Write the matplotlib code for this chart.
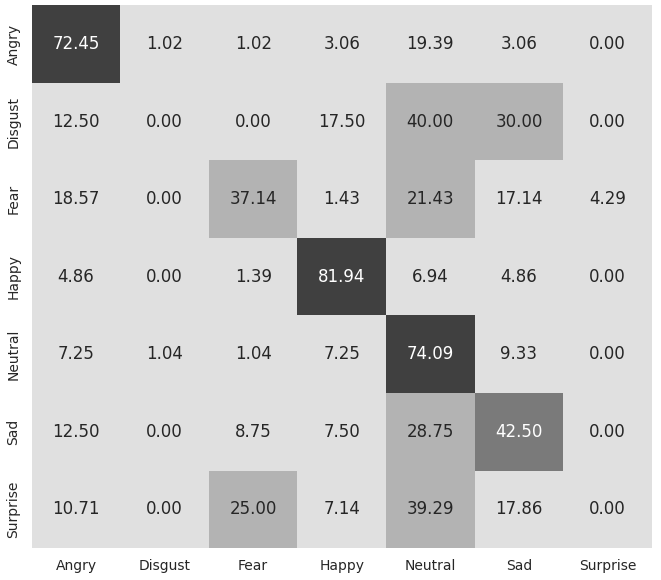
import numpy as np
import matplotlib
matplotlib.use("Agg")
import matplotlib.pyplot as plt
import seaborn as sns
from matplotlib.colors import ListedColormap

labels = ["Angry", "Disgust", "Fear", "Happy", "Neutral", "Sad", "Surprise"]
row_angry    = [72.45, 1.02, 1.02, 3.06, 19.39, 3.06, 0.00]
row_disgust  = [12.50, 0.00, 0.00, 17.50, 40.00, 30.00, 0.00]
row_fear     = [18.57, 0.00, 37.14, 1.43, 21.43, 17.14, 4.29]
row_happy    = [4.86, 0.00, 1.39, 81.94, 6.94, 4.86, 0.00]
row_neutral  = [7.25, 1.04, 1.04, 7.25, 74.09, 9.33, 0.00]
row_sad      = [12.50, 0.00, 8.75, 7.50, 28.75, 42.50, 0.00]
row_surprise = [10.71, 0.00, 25.00, 7.14, 39.29, 17.86, 0.00]

matrix = np.array([row_angry, row_disgust, row_fear, row_happy,
                   row_neutral, row_sad, row_surprise])

sns.set_style("white")
plt.rcParams['font.family'] = ['DejaVu Sans']

cmap = ListedColormap(["#e0e0e0", "#b3b3b3", "#7a7a7a", "#404040"])

fig = plt.figure(figsize=(6.61, 5.80), dpi=100)
ax = fig.add_axes([0.048, 0.055, 0.938, 0.936])
sns.heatmap(matrix, annot=True, fmt=".2f", cmap=cmap, cbar=False,
            xticklabels=labels, yticklabels=labels, ax=ax,
            annot_kws={"fontsize": 12})
ax.tick_params(axis='both', length=0, labelsize=10, colors="#262626", pad=8)
plt.setp(ax.get_yticklabels(), rotation=90, va="center")
plt.setp(ax.get_xticklabels(), rotation=0)
fig.savefig("out.png", dpi=100)
